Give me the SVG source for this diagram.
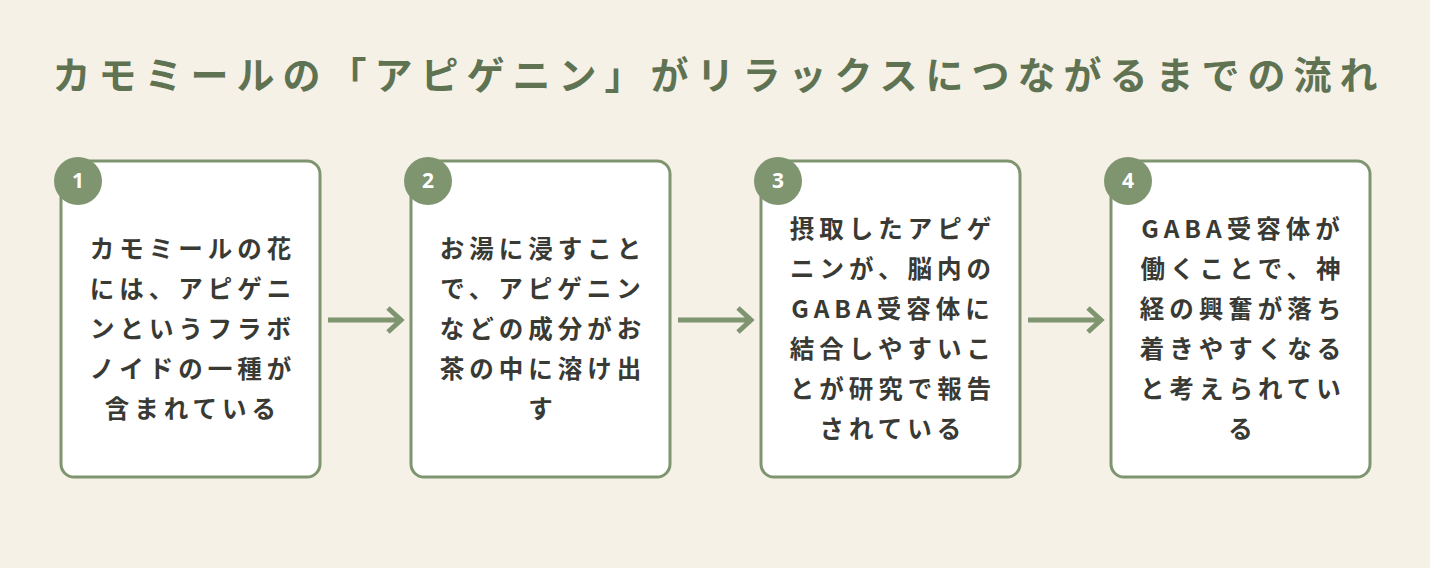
<svg xmlns="http://www.w3.org/2000/svg" width="1430" height="568" viewBox="0 0 1430 568">
<style>
.t{font-family:"Noto Sans CJK JP","Noto Sans",sans-serif;font-weight:700;fill:#5f7352}
.b{fill:#fff;stroke:#7f9570;stroke-width:3}
.c{fill:#7f9570}
.n{font-family:"Noto Sans","Noto Sans CJK JP",sans-serif;font-weight:700;font-size:21px;fill:#fff;text-anchor:middle}
.x{font-family:"Noto Sans CJK JP",sans-serif;font-weight:700;font-size:24.5px;fill:#3a3a34;text-anchor:middle;letter-spacing:5px}
.a{stroke:#7f9570;stroke-width:5;fill:none}
</style>
<rect width="1430" height="568" fill="#f5f1e7"/>
<text class="t" x="719" y="89" font-size="38" text-anchor="middle" letter-spacing="8">カモミールの「アピゲニン」がリラックスにつながるまでの流れ</text>
<g id="n1"><rect class="b" x="61" y="161" width="259" height="316" rx="13"/><circle class="c" cx="78" cy="181" r="24"/><text class="n" x="78" y="188">1</text>
<text class="x" x="193" y="258">カモミールの花</text><text class="x" x="193" y="298">には、アピゲニ</text><text class="x" x="193" y="338">ンというフラボ</text><text class="x" x="193" y="378">ノイドの一種が</text><text class="x" x="193" y="418">含まれている</text></g>
<g id="n2"><rect class="b" x="411" y="161" width="259" height="316" rx="13"/><circle class="c" cx="428" cy="181" r="24"/><text class="n" x="428" y="188">2</text>
<text class="x" x="543" y="258">お湯に浸すこと</text><text class="x" x="543" y="298">で、アピゲニン</text><text class="x" x="543" y="338">などの成分がお</text><text class="x" x="543" y="378">茶の中に溶け出</text><text class="x" x="543" y="418">す</text></g>
<g id="n3"><rect class="b" x="761" y="161" width="259" height="316" rx="13"/><circle class="c" cx="778" cy="181" r="24"/><text class="n" x="778" y="188">3</text>
<text class="x" x="893" y="238">摂取したアピゲ</text><text class="x" x="893" y="278">ニンが、脳内の</text><text class="x" x="893" y="318">GABA受容体に</text><text class="x" x="893" y="358">結合しやすいこ</text><text class="x" x="893" y="398">とが研究で報告</text><text class="x" x="893" y="438">されている</text></g>
<g id="n4"><rect class="b" x="1111" y="161" width="259" height="316" rx="13"/><circle class="c" cx="1128" cy="181" r="24"/><text class="n" x="1128" y="188">4</text>
<text class="x" x="1243" y="238">GABA受容体が</text><text class="x" x="1243" y="278">働くことで、神</text><text class="x" x="1243" y="318">経の興奮が落ち</text><text class="x" x="1243" y="358">着きやすくなる</text><text class="x" x="1243" y="398">と考えられてい</text><text class="x" x="1243" y="438">る</text></g>
<g id="connectors">
<path class="a" d="M328 320H400M388 308L401 320L388 332"/>
<path class="a" d="M678 320H750M738 308L751 320L738 332"/>
<path class="a" d="M1028 320H1100M1088 308L1101 320L1088 332"/>
</g>
</svg>
